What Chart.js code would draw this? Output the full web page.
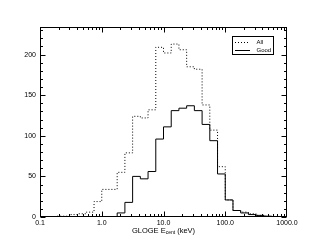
<!DOCTYPE html>
<html>
<head>
<meta charset="utf-8">
<script src="https://cdn.jsdelivr.net/npm/chart.js@4.4.1/dist/chart.umd.min.js"></script>
<style>
  html, body { margin: 0; padding: 0; background: #fff; }
  #wrap { width: 311px; height: 249px; position: relative; }
</style>
</head>
<body>
<div id="wrap"><canvas id="c"></canvas></div>
<script>
// bin edges, 8 bins per decade (keV)
const binEdges = [
  0.1, 0.1334, 0.1778, 0.2371, 0.3162, 0.4217, 0.5623, 0.7499,
  1, 1.334, 1.778, 2.371, 3.162, 4.217, 5.623, 7.499,
  10, 13.34, 17.78, 23.71, 31.62, 42.17, 56.23, 74.99,
  100, 133.4, 177.8, 237.1, 316.2, 421.7, 562.3, 749.9,
  1000
];
const allCounts = [
  0, 0, 1, 1, 3, 4, 6, 19,
  34, 34, 55, 79, 124, 122, 132, 209,
  202, 213, 206, 185, 182, 138, 107, 62,
  21, 8, 6, 4, 2, 1, 0, 0
];
const goodCounts = [
  0, 0, 0, 0, 0, 0, 0, 0,
  0, 0, 5, 18, 50, 47, 56, 96,
  111, 131, 134, 137, 131, 114, 94, 53,
  21, 8, 5, 3, 2, 1, 0, 0
];
const xTicks = [0.1, 1, 10, 100, 1000];
const xTickLabels = ['0.1', '1.0', '10.0', '100.0', '1000.0'];
const yTicks = [0, 50, 100, 150, 200];
const yMax = 234;
const legendLabels = ['All', 'Good'];

const FONT = "'Liberation Sans', Arial, sans-serif";

// histogram as stepped line: each edge carries the count of the bin to its right
function toSteps(counts) {
  return binEdges.map((e, i) => ({ x: e, y: counts[Math.min(i, counts.length - 1)] }));
}

// frame + inward ticks on all four sides (ROOT style)
const frameTicks = {
  id: 'frameTicks',
  afterDraw(chart) {
    const { ctx, chartArea: a, scales: { x, y } } = chart;
    const L = a.left + 0.5, R = a.right - 0.5, T = a.top + 0.5, B = a.bottom - 0.5;
    ctx.save();
    ctx.strokeStyle = '#000';
    ctx.lineWidth = 1;
    ctx.strokeRect(L, T, R - L, B - T);
    const seg = (x1, y1, x2, y2) => { ctx.beginPath(); ctx.moveTo(x1, y1); ctx.lineTo(x2, y2); ctx.stroke(); };
    for (let v = 0; v <= yMax; v += 10) {
      const py = Math.round(y.getPixelForValue(v)) + 0.5;
      const len = v % 50 === 0 ? 5 : 2.5;
      seg(L, py, L + len, py);
      seg(R, py, R - len, py);
    }
    for (let d = 0.1; d < 1000; d *= 10) {
      for (let m = 1; m <= 9; m++) {
        const px = Math.round(x.getPixelForValue(d * m)) + 0.5;
        const len = m === 1 ? 5 : 2.5;
        seg(px, B, px, B - len);
        seg(px, T, px, T + len);
      }
    }
    ctx.restore();
  }
};

const legendBox = {
  id: 'legendBox',
  afterDraw(chart) {
    const { ctx } = chart;
    const bx = 232.5, by = 36.5, bw = 41, bh = 18;
    ctx.save();
    ctx.fillStyle = '#fff';
    ctx.fillRect(bx, by, bw, bh);
    ctx.strokeStyle = '#000';
    ctx.lineWidth = 1;
    ctx.strokeRect(bx, by, bw, bh);
    ctx.font = '6px ' + FONT;
    ctx.fillStyle = '#000';
    ctx.textBaseline = 'middle';
    const rows = [by + 5.5, by + 13];
    chart.data.datasets.forEach((ds, i) => {
      ctx.beginPath();
      ctx.setLineDash(ds.borderDash || []);
      ctx.moveTo(bx + 2.5, Math.round(rows[i]) + 0.5);
      ctx.lineTo(bx + 17.5, Math.round(rows[i]) + 0.5);
      ctx.stroke();
      ctx.setLineDash([]);
      ctx.fillText(legendLabels[i], bx + 24, rows[i] + 0.5);
    });
    ctx.restore();
  }
};

const xTitle = {
  id: 'xTitle',
  afterDraw(chart) {
    const { ctx, chartArea: a } = chart;
    const main = '7.5px ' + FONT, sub = '5px ' + FONT;
    const parts = [['GLOGE E', main, 0], ['cent', sub, 1.8], [' (keV)', main, 0]];
    ctx.save();
    ctx.fillStyle = '#000';
    ctx.textBaseline = 'alphabetic';
    let w = 0;
    parts.forEach(p => { ctx.font = p[1]; w += ctx.measureText(p[0]).width; });
    let px = (a.left + a.right) / 2 - w / 2;
    parts.forEach(p => {
      ctx.font = p[1];
      ctx.fillText(p[0], px, 232.5 + p[2]);
      px += ctx.measureText(p[0]).width;
    });
    ctx.restore();
  }
};

new Chart(document.getElementById('c'), {
  type: 'line',
  data: {
    datasets: [
      {
        label: legendLabels[0],
        data: toSteps(allCounts),
        stepped: true,
        borderColor: '#000',
        borderWidth: 1,
        borderDash: [1, 2],
        pointRadius: 0,
        fill: false
      },
      {
        label: legendLabels[1],
        data: toSteps(goodCounts),
        stepped: true,
        borderColor: '#000',
        borderWidth: 1,
        pointRadius: 0,
        fill: false
      }
    ]
  },
  options: {
    responsive: true,
    maintainAspectRatio: false,
    animation: false,
    devicePixelRatio: 1,
    layout: { padding: { top: 27, right: 24, left: 0, bottom: 0 } },
    plugins: { legend: { display: false }, tooltip: { enabled: false } },
    scales: {
      x: {
        type: 'logarithmic',
        min: 0.1,
        max: 1000,
        grid: { display: false, drawTicks: false },
        border: { display: false },
        afterBuildTicks: s => { s.ticks = xTicks.map(v => ({ value: v })); },
        afterFit: s => { s.height = 32; },
        ticks: {
          autoSkip: false,
          maxRotation: 0,
          padding: 2,
          color: '#000',
          font: { family: FONT, size: 7 },
          callback: (v, i) => xTickLabels[i]
        }
      },
      y: {
        min: 0,
        max: yMax,
        grid: { display: false, drawTicks: false },
        border: { display: false },
        afterBuildTicks: s => { s.ticks = yTicks.map(v => ({ value: v })); },
        afterFit: s => { s.width = 40; },
        ticks: {
          padding: 4,
          color: '#000',
          font: { family: FONT, size: 7 }
        }
      }
    }
  },
  plugins: [frameTicks, legendBox, xTitle]
});
</script>
</body>
</html>
